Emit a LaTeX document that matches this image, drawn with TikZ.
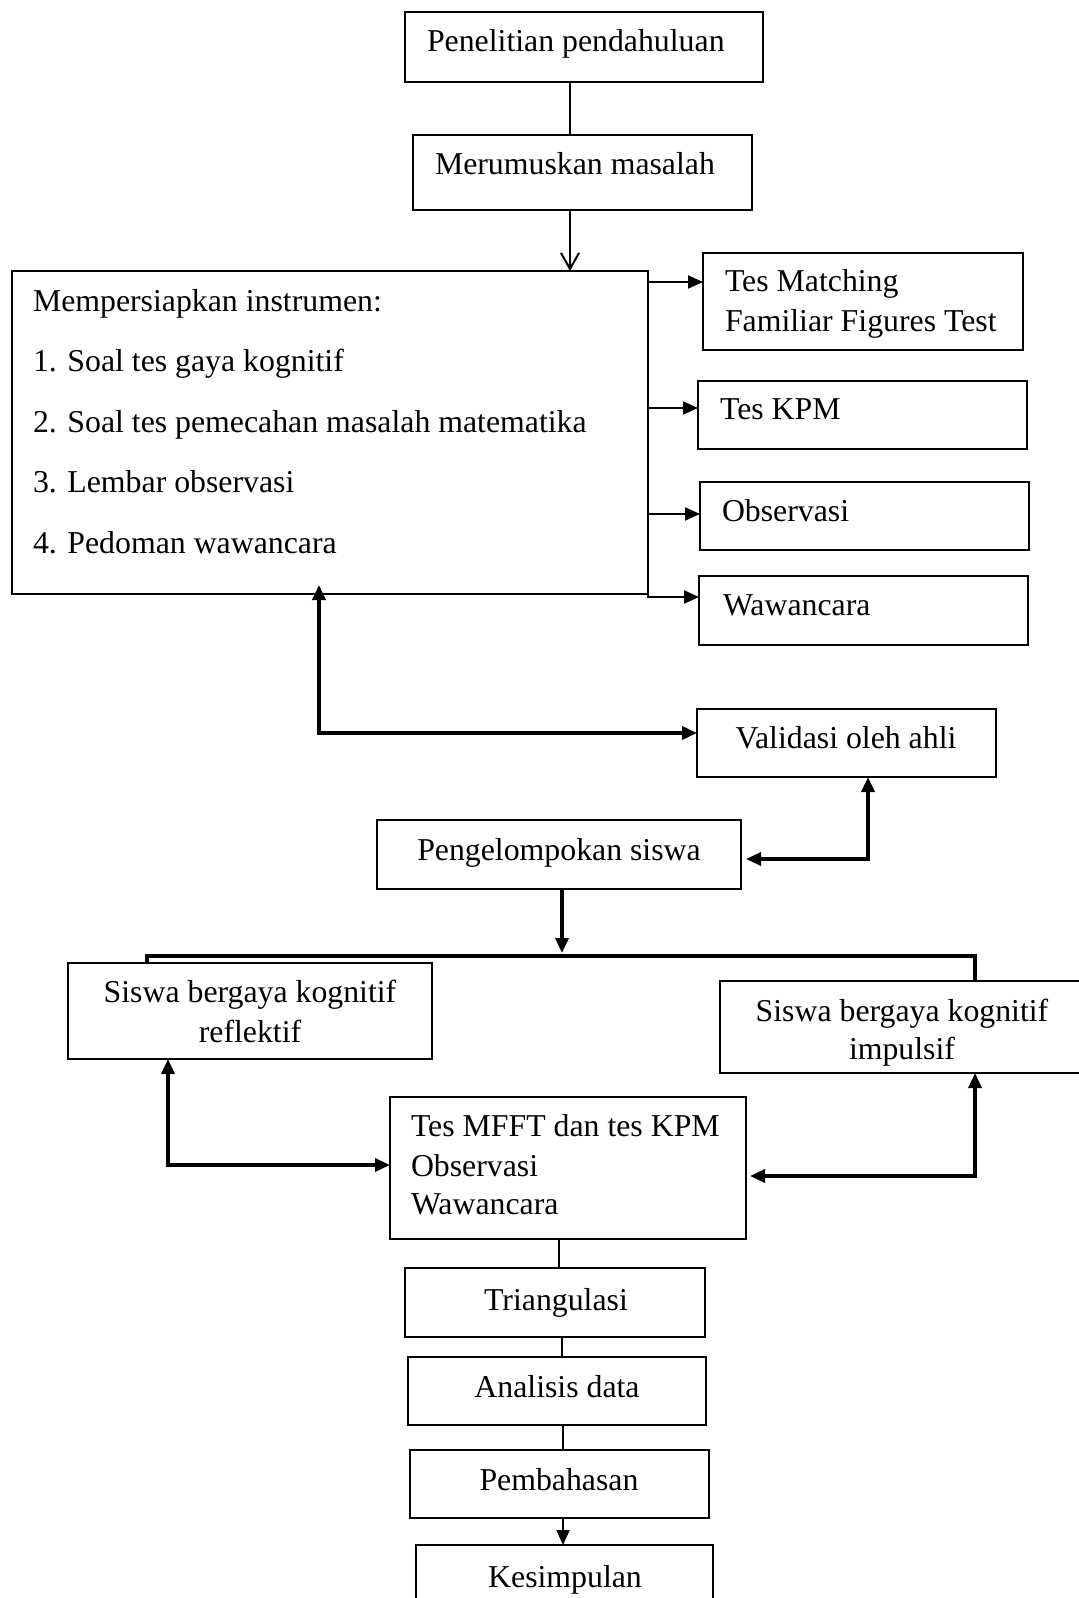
\documentclass[tikz,border=0pt]{standalone}
\usepackage{fontspec}
\setmainfont{Liberation Serif}
\usetikzlibrary{arrows.meta,fit}
\begin{document}
\begin{tikzpicture}[x=0.5pt,y=-0.5pt,
  box/.style={draw,line width=1pt,inner sep=0pt,outer sep=0pt},
  txt/.style={inner sep=0pt,outer sep=0pt,font=\fontsize{15.9pt}{19pt}\selectfont,anchor=base west},
  ctxt/.style={txt,anchor=base},
  thinline/.style={line width=1pt},
  thickline/.style={line width=1.75pt},
  >={Triangle[length=7.5pt,width=6.5pt]}
]
\useasboundingbox (0,0) rectangle (1078,1598);
\fill[white] (0,0) rectangle (1078,1598);

% boxes
\node[box,fit={(405,12) (763,82)}] (pen) {};
\node[box,fit={(413,135) (752,210)}] (mer) {};
\node[box,fit={(12,271) (648,594)}] (big) {};
\node[box,fit={(703,253) (1023,350)}] (tm) {};
\node[box,fit={(698,381) (1027,449)}] (kpm) {};
\node[box,fit={(700,482) (1029,550)}] (obs) {};
\node[box,fit={(699,576) (1028,645)}] (waw) {};
\node[box,fit={(697,709) (996,777)}] (val) {};
\node[box,fit={(377,820) (741,889)}] (peng) {};
\node[box,fit={(68,963) (432,1059)}] (refl) {};
\node[box,fit={(720,981) (1084,1073)}] (imp) {};
\node[box,fit={(390,1097) (746,1239)}] (mfft) {};
\node[box,fit={(405,1268) (705,1337)}] (tri) {};
\node[box,fit={(408,1357) (706,1425)}] (ana) {};
\node[box,fit={(410,1450) (709,1518)}] (pem) {};
\node[box,fit={(416,1545) (713,1620)}] (kes) {};

% texts
\node[txt] (tpen) at (427,52) {Penelitian pendahuluan};
\node[txt] (tmer) at (435,175) {Merumuskan masalah};
\node[txt] (tb0) at (33,312) {Mempersiapkan instrumen:};
\node[txt] (tb1) at (33,372) {1. Soal tes gaya kognitif};
\node[txt] (tb2) at (33,433) {2. Soal tes pemecahan masalah matematika};
\node[txt] (tb3) at (33,493) {3. Lembar observasi};
\node[txt] (tb4) at (33,553) {4. Pedoman wawancara};
\node[txt] (ttm1) at (725,292) {Tes Matching};
\node[txt] (ttm2) at (725,332) {Familiar Figures Test};
\node[txt] (tkpm) at (720,420) {Tes KPM};
\node[txt] (tobs) at (722,522) {Observasi};
\node[txt] (twaw) at (723,615) {Wawancara};
\node[ctxt] (tval) at (846,748) {Validasi oleh ahli};
\node[ctxt] (tpeng) at (559,860) {Pengelompokan siswa};
\node[ctxt] (tref1) at (250,1002) {Siswa bergaya kognitif};
\node[ctxt] (tref2) at (250,1042) {reflektif};
\node[ctxt] (timp1) at (902,1021) {Siswa bergaya kognitif};
\node[ctxt] (timp2) at (902,1059) {impulsif};
\node[txt] (tm1) at (411,1136) {Tes MFFT dan tes KPM};
\node[txt] (tm2) at (411,1176) {Observasi};
\node[txt] (tm3) at (411,1214) {Wawancara};
\node[ctxt] (ttri) at (556,1310) {Triangulasi};
\node[ctxt] (tana) at (557,1397) {Analisis data};
\node[ctxt] (tpem) at (559,1490) {Pembahasan};
\node[ctxt] (tkes) at (565,1587) {Kesimpulan};

% free ends
\coordinate (bigin) at (319,585);
\coordinate (pengin) at (746,859);
\coordinate (mfftin) at (750,1176);
\coordinate (split) at (562,953);

% connectors
\draw[thinline] (pen.south -| 570,0) -- (mer.north -| 570,0);
\draw[thinline,-{Straight Barb[length=8pt,width=9pt]}] (mer.south -| 570,0) -- (big.north -| 570,0);
\draw[thinline,->] (big.east |- 0,282) -- (tm.west |- 0,282);
\draw[thinline,->] (big.east |- 0,408) -- (kpm.west |- 0,408);
\draw[thinline,->] (big.east |- 0,514) -- (obs.west |- 0,514);
\draw[thinline,->] (big.south east) -- (big.east |- 0,597) -- (waw.west |- 0,597);
\draw[thickline,<->] (bigin) -- (319,733) -- (val.west |- 0,733);
\draw[thickline,<->] (val.south -| 868,0) -- (868,859) -- (pengin);
\draw[thickline,->] (peng.south -| 562,0) -- (split);
\draw[thickline] (refl.north -| 147,0) -- (147,956) -- (975,956) -- (imp.north -| 975,0);
\draw[thickline,<->] (refl.south -| 168,0) -- (168,1165) -- (mfft.west |- 0,1165);
\draw[thickline,<->] (imp.south -| 975,0) -- (975,1176) -- (mfftin);
\draw[thinline] (mfft.south -| 559,0) -- (tri.north -| 559,0);
\draw[thinline] (tri.south -| 562,0) -- (ana.north -| 562,0);
\draw[thinline] (ana.south -| 563,0) -- (pem.north -| 563,0);
\draw[thinline,->] (pem.south -| 563,0) -- (kes.north -| 563,0);
\end{tikzpicture}
\end{document}
